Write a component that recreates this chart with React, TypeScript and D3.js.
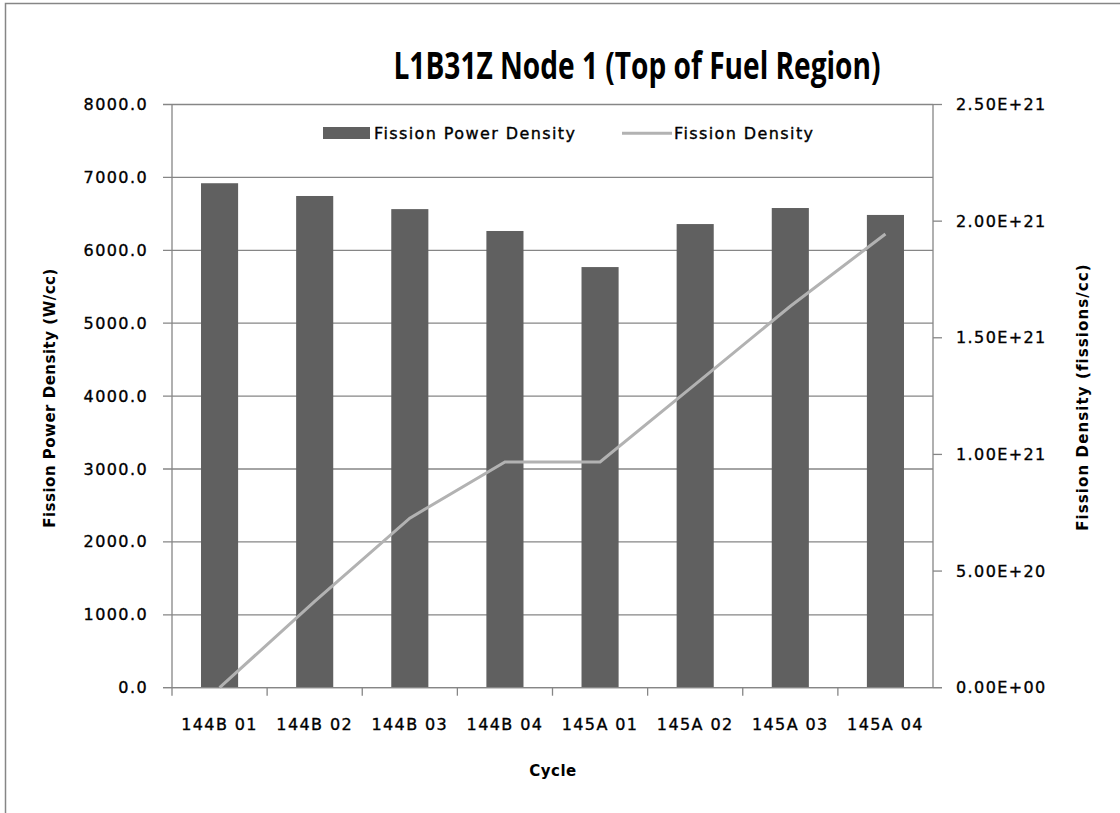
import { format, line, scaleBand, scaleLinear } from "d3";

const categories = ["144B 01", "144B 02", "144B 03", "144B 04", "145A 01", "145A 02", "145A 03", "145A 04"];
const powerDensity = [6920, 6745, 6565, 6265, 5770, 6360, 6580, 6485];
const fissionDensity = [0, 3.7e20, 7.27e20, 9.68e20, 9.68e20, 1.3e21, 1.635e21, 1.945e21];
const leftTicks = [0, 1000, 2000, 3000, 4000, 5000, 6000, 7000, 8000];
const rightTicks = [0, 5e20, 1e21, 1.5e21, 2e21, 2.5e21];

const W = 1120;
const H = 813;
const plotLeft = 172;
const plotRight = 933;
const plotTop = 104.5;
const plotBottom = 687.7;

const axisColor = "#868686";
const barColor = "#606060";
const lineColor = "#b2b2b2";
const font = "DejaVu Sans";

const fmtLeft = format(".1f");
function fmtRight(v: number) {
  const [m, e] = v.toExponential(2).split("e");
  const sign = e[0] === "-" ? "-" : "+";
  const digits = e.replace(/[+-]/, "").padStart(2, "0");
  return `${m}E${sign}${digits}`;
}

export default function App() {
  const x = scaleBand<string>()
    .domain(categories)
    .range([plotLeft, plotRight])
    .paddingInner(0.61)
    .paddingOuter(0.305);
  const step = (plotRight - plotLeft) / categories.length;
  const yL = scaleLinear([0, 8000], [plotBottom, plotTop]);
  const yR = scaleLinear([0, 2.5e21], [plotBottom, plotTop]);

  const cx = (c: string) => (x(c) ?? 0) + x.bandwidth() / 2;
  const path = line<number>((_, i) => cx(categories[i]), (d) => yR(d))(fissionDensity);

  const labelStyle = {
    fontFamily: font,
    fontSize: 16,
    letterSpacing: 1.4,
    fill: "#000",
    stroke: "#000",
    strokeWidth: 0.35,
  };
  const titleStyle = { fontFamily: font, fontSize: 15, fontWeight: 700, letterSpacing: 0.5, fill: "#000" };

  return (
    <svg width={W} height={H} style={{ position: "absolute", left: 0, top: 0, background: "#fff" }}>
      <rect x={5.5} y={3.5} width={1300} height={900} fill="#fff" stroke={axisColor} strokeWidth={1.5} />

      <text
        x={637}
        y={79}
        textAnchor="middle"
        textLength={487}
        lengthAdjust="spacingAndGlyphs"
        style={{ fontFamily: "Open Sans", fontSize: 37, fontWeight: 700, fill: "#000" }}
      >
        L1B31Z Node 1 (Top of Fuel Region)
      </text>

      {/* gridlines + left ticks */}
      {leftTicks.map((t) => (
        <g key={t}>
          <line x1={plotLeft - 9} x2={plotRight} y1={yL(t)} y2={yL(t)} stroke={axisColor} strokeWidth={1.3} />
          <text x={148} y={yL(t) + 5.5} textAnchor="end" style={labelStyle}>
            {fmtLeft(t)}
          </text>
        </g>
      ))}

      {/* bars */}
      {categories.map((c, i) => (
        <rect
          key={c}
          x={x(c)}
          y={yL(powerDensity[i])}
          width={x.bandwidth()}
          height={plotBottom - yL(powerDensity[i])}
          fill={barColor}
        />
      ))}

      {/* axes */}
      <line x1={plotLeft} x2={plotLeft} y1={plotTop} y2={plotBottom} stroke={axisColor} strokeWidth={1.3} />
      <line x1={plotRight} x2={plotRight} y1={plotTop} y2={plotBottom} stroke={axisColor} strokeWidth={1.3} />
      {rightTicks.map((t) => (
        <g key={t}>
          <line x1={plotRight} x2={plotRight + 9} y1={yR(t)} y2={yR(t)} stroke={axisColor} strokeWidth={1.3} />
          <text x={956} y={yR(t) + 5.5} style={labelStyle}>
            {fmtRight(t)}
          </text>
        </g>
      ))}
      <line x1={plotLeft - 9} x2={plotRight + 9} y1={plotBottom} y2={plotBottom} stroke={axisColor} strokeWidth={1.3} />
      {categories.map((c, i) => (
        <line
          key={c}
          x1={plotLeft + step * i}
          x2={plotLeft + step * i}
          y1={plotBottom}
          y2={plotBottom + 8}
          stroke={axisColor}
          strokeWidth={1.3}
        />
      ))}
      {categories.map((c) => (
        <text key={c} x={cx(c)} y={730} textAnchor="middle" style={labelStyle}>
          {c}
        </text>
      ))}

      {/* fission density line */}
      {path && <path d={path} fill="none" stroke={lineColor} strokeWidth={3} />}

      {/* legend */}
      <rect x={323} y={127} width={47} height={12} fill={barColor} />
      <text x={374} y={139} style={labelStyle}>
        Fission Power Density
      </text>
      <line x1={622} x2={672} y1={133.3} y2={133.3} stroke={lineColor} strokeWidth={3} />
      <text x={674} y={139} style={labelStyle}>
        Fission Density
      </text>

      {/* axis titles */}
      <text x={553} y={776} textAnchor="middle" style={titleStyle}>
        Cycle
      </text>
      <text transform="translate(55,398) rotate(-90)" textAnchor="middle" style={titleStyle}>
        Fission Power Density (W/cc)
      </text>
      <text
        transform="translate(1088,397) rotate(-90)"
        textAnchor="middle"
        style={{ ...titleStyle, letterSpacing: 1.1 }}
      >
        Fission Density (fissions/cc)
      </text>
    </svg>
  );
}
